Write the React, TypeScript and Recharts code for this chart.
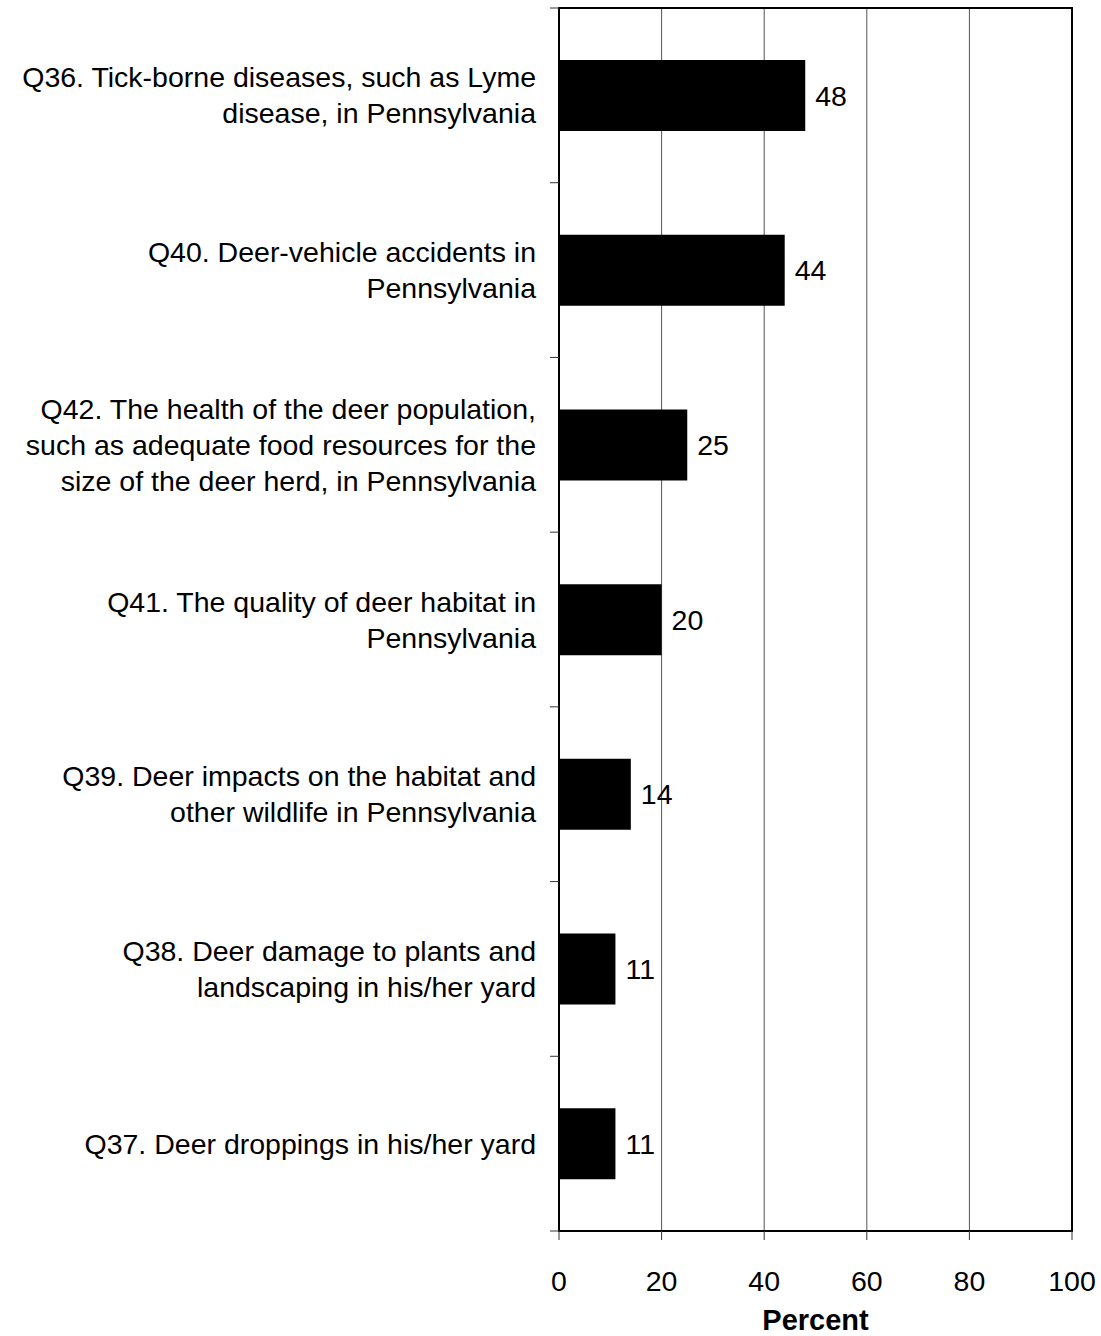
import React from "react";
import {
  BarChart,
  Bar,
  XAxis,
  YAxis,
  CartesianGrid,
  LabelList,
  ReferenceArea,
} from "recharts";

// questions, top to bottom (line breaks as in the original)
const questions = [
  "Q36. Tick-borne diseases, such as Lyme\ndisease, in Pennsylvania",
  "Q40. Deer-vehicle accidents in\nPennsylvania",
  "Q42. The health of the deer population,\nsuch as adequate food resources for the\nsize of the deer herd, in Pennsylvania",
  "Q41. The quality of deer habitat in\nPennsylvania",
  "Q39. Deer impacts on the habitat and\nother wildlife in Pennsylvania",
  "Q38. Deer damage to plants and\nlandscaping in his/her yard",
  "Q37. Deer droppings in his/her yard",
];
const percents = [48, 44, 25, 20, 14, 11, 11];
const percentTicks = [0, 20, 40, 60, 80, 100];

const data = questions.map((q, i) => ({ q, value: percents[i] }));

const FONT = "'Liberation Sans', Arial, sans-serif";
const LABEL_GAP = 23;
const TICK_LEN = 9;

// label lines + tick marks on the band edges (ticks sit between categories)
function QuestionTick({ x, y, payload }: any) {
  const lines = String(payload.value).split("\n");
  const lh = 36;
  const y0 = y - ((lines.length - 1) * lh) / 2;
  const axisX = x + LABEL_GAP;
  const half = payload.offset || 0;
  const top = payload.coordinate - half;
  const bottom = payload.coordinate + half;
  const last = payload.index === questions.length - 1;
  return (
    <g>
      <line x1={axisX - TICK_LEN} x2={axisX} y1={top} y2={top} stroke="#333" />
      {last && <line x1={axisX - TICK_LEN} x2={axisX} y1={bottom} y2={bottom} stroke="#333" />}
      <text x={x} y={y0} textAnchor="end" fontSize={28.5} fill="#000" fontFamily={FONT}>
        {lines.map((l, i) => (
          <tspan key={i} x={x} y={y0 + i * lh} dy="0.355em">
            {l}
          </tspan>
        ))}
      </text>
    </g>
  );
}

export default function App() {
  return (
    <div style={{ position: "absolute", left: 0, top: 0, fontFamily: FONT, background: "#fff" }}>
      <BarChart
        width={1101}
        height={1336}
        data={data}
        layout="vertical"
        margin={{ top: 8, right: 29, left: 0, bottom: 0 }}
        barSize={71}
      >
        <CartesianGrid horizontal={false} stroke="#555" strokeWidth={1} />
        <XAxis
          type="number"
          domain={[0, 100]}
          ticks={percentTicks}
          interval={0}
          height={105}
          tickSize={TICK_LEN}
          tickMargin={31}
          axisLine={{ stroke: "#000", strokeWidth: 2 }}
          tickLine={{ stroke: "#333" }}
          tick={{ fontSize: 28.5, fill: "#000", fontFamily: FONT }}
          label={{
            value: "Percent",
            position: "insideBottom",
            offset: 6,
            style: { fontSize: 29, fontWeight: "bold", fill: "#000", fontFamily: FONT },
          }}
        />
        <YAxis
          yAxisId="q"
          type="category"
          dataKey="q"
          width={559}
          interval={0}
          tickSize={0}
          tickMargin={LABEL_GAP}
          tickLine={false}
          axisLine={{ stroke: "#000", strokeWidth: 2 }}
          tick={<QuestionTick />}
        />
        <ReferenceArea
          yAxisId="q"
          x1={0}
          x2={100}
          fill="none"
          stroke="#000"
          strokeWidth={2}
          ifOverflow="visible"
        />
        <Bar dataKey="value" yAxisId="q" fill="#000" isAnimationActive={false}>
          <LabelList
            dataKey="value"
            position="right"
            offset={10}
            style={{ fontSize: 28.5, fill: "#000", fontFamily: FONT }}
          />
        </Bar>
      </BarChart>
    </div>
  );
}
